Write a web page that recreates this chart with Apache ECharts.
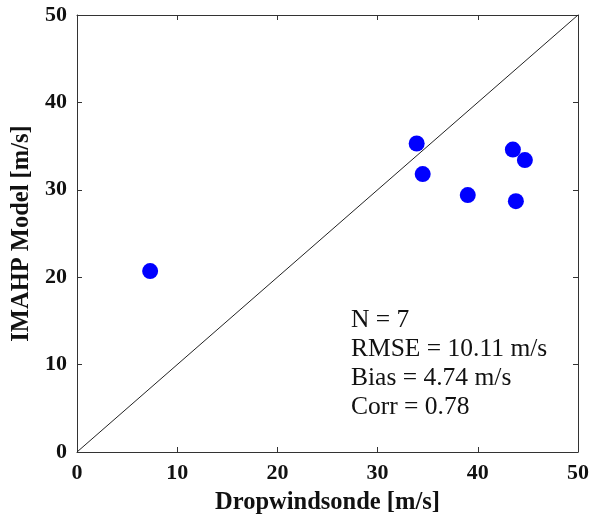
<!DOCTYPE html>
<html><head><meta charset="utf-8">
<script src="https://cdn.jsdelivr.net/npm/echarts@6/dist/echarts.min.js"></script>
<style>html,body{margin:0;padding:0;background:#fff}#c{width:600px;height:514px}</style>
</head><body><div id="c"></div>
<script>
const dropwindsonde = [7.3, 33.9, 34.5, 39.0, 43.5, 44.7, 43.8];
const imahpModel    = [20.7, 35.3, 31.8, 29.4, 34.6, 33.4, 28.7];
const statsLines = ['N = 7', 'RMSE = 10.11 m/s', 'Bias = 4.74 m/s', 'Corr = 0.78'];
const axisMin = 0, axisMax = 50, axisStep = 10;
const xTitle = 'Dropwindsonde [m/s]';
const yTitle = 'IMAHP Model [m/s]';
const oneToOne = [[0, 0], [50, 50]];

const serif = '"Liberation Serif", "Times New Roman", serif';
const chart = echarts.init(document.getElementById('c'), null, {renderer: 'canvas'});
const lineStyle = {color: '#333', width: 1};
const tick = {show: true, inside: true, length: 5, lineStyle: lineStyle};
const labelStyle = {fontFamily: serif, fontWeight: 'bold', fontSize: 22, color: '#111'};
const titleStyle = {fontFamily: serif, fontWeight: 'bold', fontSize: 24.5, color: '#111'};
const base = {type: 'value', min: axisMin, max: axisMax, interval: axisStep,
  splitLine: {show: false}, axisLine: {show: true, onZero: false, lineStyle: lineStyle}, axisTick: tick};
chart.setOption({
  animation: false,
  grid: {left: 77, right: 22, top: 15, bottom: 62, containLabel: false, outerBoundsMode: 'none'},
  xAxis: [
    Object.assign({}, base, {position: 'bottom', name: xTitle, nameLocation: 'middle', nameGap: 38,
      nameTextStyle: titleStyle,
      axisLabel: Object.assign({margin: 10}, labelStyle)}),
    Object.assign({}, base, {position: 'top', axisLabel: {show: false}})
  ],
  yAxis: [
    Object.assign({}, base, {position: 'left', name: yTitle, nameLocation: 'middle', nameGap: 33,
      nameTextStyle: titleStyle,
      axisLabel: Object.assign({margin: 10}, labelStyle)}),
    Object.assign({}, base, {position: 'right', axisLabel: {show: false}})
  ],
  series: [
    {type: 'line', data: oneToOne, symbol: 'none', lineStyle: {color: '#222', width: 1}, silent: true},
    {type: 'scatter', data: dropwindsonde.map((x, i) => [x, imahpModel[i]]), symbolSize: 16,
      itemStyle: {color: '#0000ff', opacity: 1}}
  ],
  graphic: [{
    type: 'text', left: 351, top: 306,
    style: {text: statsLines.join('\n'), font: '25.5px ' + serif, fill: '#111', lineHeight: 29}
  }]
});
</script></body></html>
